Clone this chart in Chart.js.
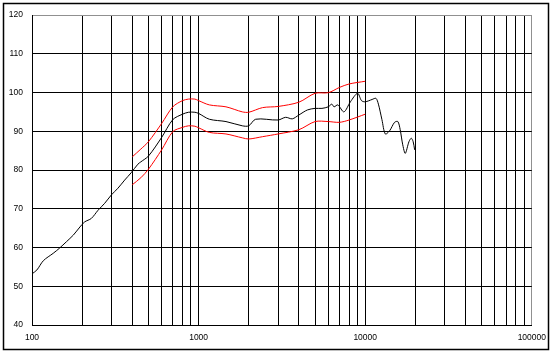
<!DOCTYPE html>
<html>
<head>
<meta charset="utf-8">
<script src="https://cdn.jsdelivr.net/npm/chart.js@4/dist/chart.umd.min.js"></script>
<style>
html,body{margin:0;padding:0;background:#fff;}
#wrap{width:554px;height:356px;position:relative;}
</style>
</head>
<body>
<div id="wrap"><canvas id="c" width="554" height="356"></canvas></div>
<script>
// Measured response (black)
const respFreq = [100,107,117,134,146,161,177,194,207,227,249,273,300,328,360,394,432,450,500,600,700,800,870,950,1000,1160,1460,1830,2000,2200,3000,3330,3650,4000,4500,5000,5500,6000,6300,6500,6850,7450,8150,9000,9500,10000,11000,11600,12000,12600,13200,14000,15000,15700,16200,16800,17400,18300,18900,19400,19800];
const respSPL  = [53.2,54.2,56.6,58.5,59.8,61.5,63.2,65.3,66.6,67.5,69.6,71.4,73.6,75.3,77.4,79.3,81.5,82.1,83.6,88.4,93.0,94.4,94.9,94.9,94.6,93.1,92.5,91.4,91.4,93.1,92.9,93.6,93.2,94.2,95.5,95.9,95.9,96.3,97.0,96.3,96.8,95.0,97.6,99.8,97.9,97.6,98.2,98.5,97.0,93.0,89.3,90.1,92.3,92.5,90.5,86.5,84.3,87.3,88.2,87.3,85.2];
// Tolerance limits (red)
const limFreq  = [400,450,500,600,700,800,870,950,1000,1160,1460,1830,2000,2420,3000,4000,5000,6000,7000,8000,10000];
const limUpper = [83.4,85.4,87.3,92.0,96.3,97.9,98.3,98.3,97.9,96.8,96.3,95.0,94.9,96.1,96.4,97.5,99.8,99.95,101.3,102.2,102.9];
const limLower = [76.2,78.0,80.2,85.2,89.9,91.0,91.4,91.3,90.9,89.7,89.3,88.3,88.0,88.6,89.3,90.4,92.5,92.5,92.3,92.9,94.4];
// Axis ticks
const xTicks = [100,200,300,400,500,600,700,800,900,1000,2000,3000,4000,5000,6000,7000,8000,9000,10000,20000,30000,40000,50000,60000,70000,80000,90000,100000];
const xLabels = [100,1000,10000,100000];
const yTicks = [40,50,60,70,80,90,100,110,120];

const pts = (xs, ys) => xs.map((x, i) => ({x: x, y: ys[i]}));

const frame = {
  id: 'frame',
  afterDraw(chart) {
    const ctx = chart.ctx;
    ctx.save();
    ctx.strokeStyle = '#000';
    ctx.lineWidth = 1.5;
    ctx.strokeRect(3.5, 3.5, 545, 346);
    ctx.restore();
  }
};

new Chart(document.getElementById('c'), {
  type: 'line',
  data: {
    datasets: [
      {data: pts(limFreq, limUpper), borderColor: '#ff0000', borderWidth: 1, pointRadius: 0, tension: 0.3, fill: false},
      {data: pts(limFreq, limLower), borderColor: '#ff0000', borderWidth: 1, pointRadius: 0, tension: 0.3, fill: false},
      {data: pts(respFreq, respSPL), borderColor: '#000000', borderWidth: 1, pointRadius: 0, tension: 0.3, fill: false}
    ]
  },
  options: {
    responsive: false,
    animation: false,
    devicePixelRatio: 1,
    layout: {padding: {left: 0, top: 15, right: 20, bottom: 0}},
    plugins: {legend: {display: false}, tooltip: {enabled: false}},
    scales: {
      x: {
        type: 'logarithmic',
        min: 100, max: 100000,
        afterBuildTicks: s => { s.ticks = xTicks.map(v => ({value: v})); },
        afterFit: s => { s.height = 31; },
        border: {color: '#000', width: 1},
        grid: {
          drawTicks: false,
          lineWidth: 1,
          color: c => (c.tick && c.tick.value === 100000) ? '#909090' : '#000'
        },
        ticks: {
          autoSkip: false, maxRotation: 0, padding: 8,
          color: '#000',
          font: {family: 'Liberation Sans, Arial', size: 8.5},
          callback: v => xLabels.includes(v) ? String(v) : ''
        }
      },
      y: {
        type: 'linear',
        min: 40, max: 120,
        afterBuildTicks: s => { s.ticks = yTicks.map(v => ({value: v})); },
        afterFit: s => { s.width = 32; },
        border: {color: '#000', width: 1},
        grid: {
          drawTicks: false,
          lineWidth: 1,
          color: c => (c.tick && c.tick.value === 120) ? '#909090' : '#000'
        },
        ticks: {
          padding: 9,
          color: '#000',
          font: {family: 'Liberation Sans, Arial', size: 8.5}
        }
      }
    }
  },
  plugins: [frame]
});
</script>
</body>
</html>
